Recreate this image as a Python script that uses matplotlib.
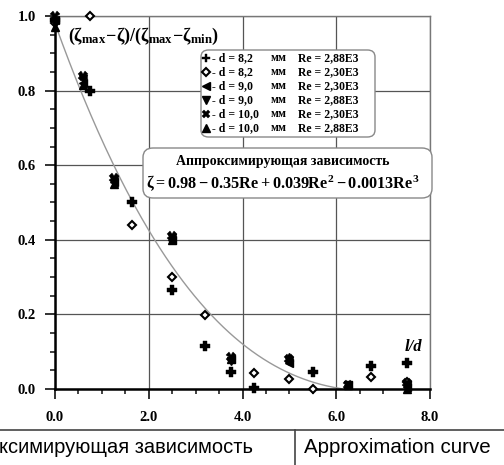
import matplotlib.pyplot as plt
import numpy as np
from matplotlib.patches import FancyBboxPatch
from matplotlib.lines import Line2D

plt.rcParams['font.family'] = ['Liberation Serif', 'DejaVu Serif']
plt.rcParams['font.weight'] = 'bold'
plt.rcParams['mathtext.fontset'] = 'custom'
plt.rcParams['mathtext.rm'] = 'Liberation Serif:bold'
plt.rcParams['mathtext.bf'] = 'Liberation Serif:bold'
plt.rcParams['mathtext.it'] = 'Liberation Serif:bold'

# data
plus_x = [0, 0.75, 1.65, 2.5, 3.2, 3.75, 4.25, 5.5, 6.75, 7.5]
plus_y = [0.99, 0.80, 0.50, 0.265, 0.115, 0.045, 0.003, 0.046, 0.062, 0.07]
diam_x = [0, 0.75, 1.65, 2.5, 3.2, 4.25, 5.0, 5.5, 6.75, 7.5]
diam_y = [0.98, 1.0, 0.44, 0.30, 0.198, 0.043, 0.027, 0.0, 0.032, 0.02]
stack_x = [0, 0.6, 1.25, 2.5, 3.75, 5.0, 6.25, 7.5]
left_y = [0.99, 0.82, 0.555, 0.400, 0.080, 0.070, 0.010, 0.005]
down_y = [0.98, 0.83, 0.560, 0.405, 0.075, 0.075, 0.010, 0.010]
cross_y = [1.00, 0.84, 0.565, 0.410, 0.085, 0.080, 0.012, 0.015]
up_y = [0.97, 0.815, 0.550, 0.400, 0.080, 0.085, 0.010, 0.000]

d_vals = ['8,2', '8,2', '9,0', '9,0', '10,0', '10,0']
re_vals = ['2,88E3', '2,30E3', '2,30E3', '2,88E3', '2,30E3', '2,88E3']

coef = [0.98, -0.35, 0.039, -0.0013]  # approximation curve
curve_end = 6.1

W, H = 504, 465
fig = plt.figure(figsize=(W / 100, H / 100), dpi=100)
ax = fig.add_axes([55 / W, 1 - 389 / H, 375 / W, 373 / H])

def fx(px):
    return px / W

def fy(py):
    return 1 - py / H

xc = np.linspace(0, curve_end, 200)
yc = coef[0] + coef[1] * xc + coef[2] * xc**2 + coef[3] * xc**3
ax.plot(xc, yc, color='#999999', lw=1.0, zorder=2)

series = [
    (plus_x, plus_y, dict(marker='P', ms=7, mfc='black', mec='black', mew=0.3)),
    (diam_x, diam_y, dict(marker='D', ms=4.5, mfc='white', mec='black', mew=1.5)),
    (stack_x, left_y, dict(marker='<', ms=6, mfc='black', mec='black')),
    (stack_x, down_y, dict(marker='v', ms=6, mfc='black', mec='black')),
    (stack_x, cross_y, dict(marker='X', ms=6.5, mfc='black', mec='black', mew=0.3)),
    (stack_x, up_y, dict(marker='^', ms=6, mfc='black', mec='black')),
]
for xs, ys, st in series:
    ax.plot(xs, ys, ls='none', clip_on=False, zorder=4, **st)

ax.set_xlim(0, 8)
ax.set_ylim(0, 1.0)
ax.set_xticks(np.arange(0, 8.01, 2))
ax.set_xticks(np.arange(0, 8.01, 0.5), minor=True)
ax.set_yticks(np.arange(0, 1.01, 0.2))
ax.set_yticks(np.arange(0, 1.01, 0.05), minor=True)
ax.set_xticklabels(['%.1f' % v for v in np.arange(0, 8.01, 2)])
ax.set_yticklabels(['%.1f' % v for v in np.arange(0, 1.01, 0.2)])
ax.tick_params(which='major', direction='out', length=7, width=1.3, labelsize=10.5, color='#222')
ax.tick_params(axis='x', which='major', pad=9)
ax.tick_params(axis='y', which='major', pad=7)
ax.tick_params(which='minor', direction='out', length=3.5, width=1.2, color='#222')
ax.grid(which='major', color='#555555', lw=0.9)
for s in ['left', 'bottom']:
    ax.spines[s].set_linewidth(1.8)
for s in ['top', 'right']:
    ax.spines[s].set_color('#777777')
    ax.spines[s].set_linewidth(1.0)

fig.text(fx(68), fy(36), r'$(\zeta_{max}\!-\!\zeta)/(\zeta_{max}\!-\!\zeta_{min})$',
         fontsize=13, va='center', ha='left')
fig.text(fx(405), fy(347), 'l/d', fontsize=12, style='italic', va='center', ha='left')

# legend box
fig.patches.append(FancyBboxPatch((fx(201), fy(137)), fx(174), 87 / H,
                                  boxstyle='round,pad=0,rounding_size=0.015',
                                  transform=fig.transFigure, fc='white', ec='#888888', lw=1.0,
                                  zorder=5))
row_y = [58, 72, 86, 100, 114, 128]
for (xs, ys, st), d, re, ry in zip(series, d_vals, re_vals, row_y):
    st2 = dict(st)
    st2['ms'] = st2['ms'] * 0.85
    fig.add_artist(Line2D([fx(206)], [fy(ry)], ls='none', transform=fig.transFigure, zorder=6, **st2))
    fig.text(fx(212), fy(ry), '- d = ' + d, fontsize=8.5, va='center', ha='left', zorder=6)
    fig.text(fx(271), fy(ry), 'мм', fontsize=8.5, va='center', ha='left', zorder=6)
    fig.text(fx(298), fy(ry), 'Re = ' + re, fontsize=8.5, va='center', ha='left', zorder=6)

# approximation box
fig.patches.append(FancyBboxPatch((fx(143), fy(198)), fx(289), 50 / H,
                                  boxstyle='round,pad=0,rounding_size=0.02',
                                  transform=fig.transFigure, fc='white', ec='#888888', lw=1.0,
                                  zorder=5))
fig.text(fx(283), fy(162), 'Аппроксимирующая зависимость', fontsize=10,
         va='center', ha='center', zorder=6)
fig.text(fx(283), fy(183), r'$\zeta = 0.98 - 0.35Re + 0.039Re^2 - 0.0013Re^3$',
         fontsize=11.7, va='center', ha='center', zorder=6)

# table row below the chart
fig.add_artist(Line2D([0, 1], [fy(430), fy(430)], transform=fig.transFigure, color='#444444', lw=1.2))
fig.add_artist(Line2D([fx(295), fx(295)], [fy(430), 0], transform=fig.transFigure, color='#444444', lw=1.2))
fig.text(fx(-1), fy(447), 'ксимирующая зависимость', fontsize=14.5, fontweight='normal',
         family='Liberation Sans', va='center', ha='left')
fig.text(fx(304), fy(447), 'Approximation curve', fontsize=14.8, fontweight='normal',
         family='Liberation Sans', va='center', ha='left')

fig.savefig('out.png', dpi=100)
